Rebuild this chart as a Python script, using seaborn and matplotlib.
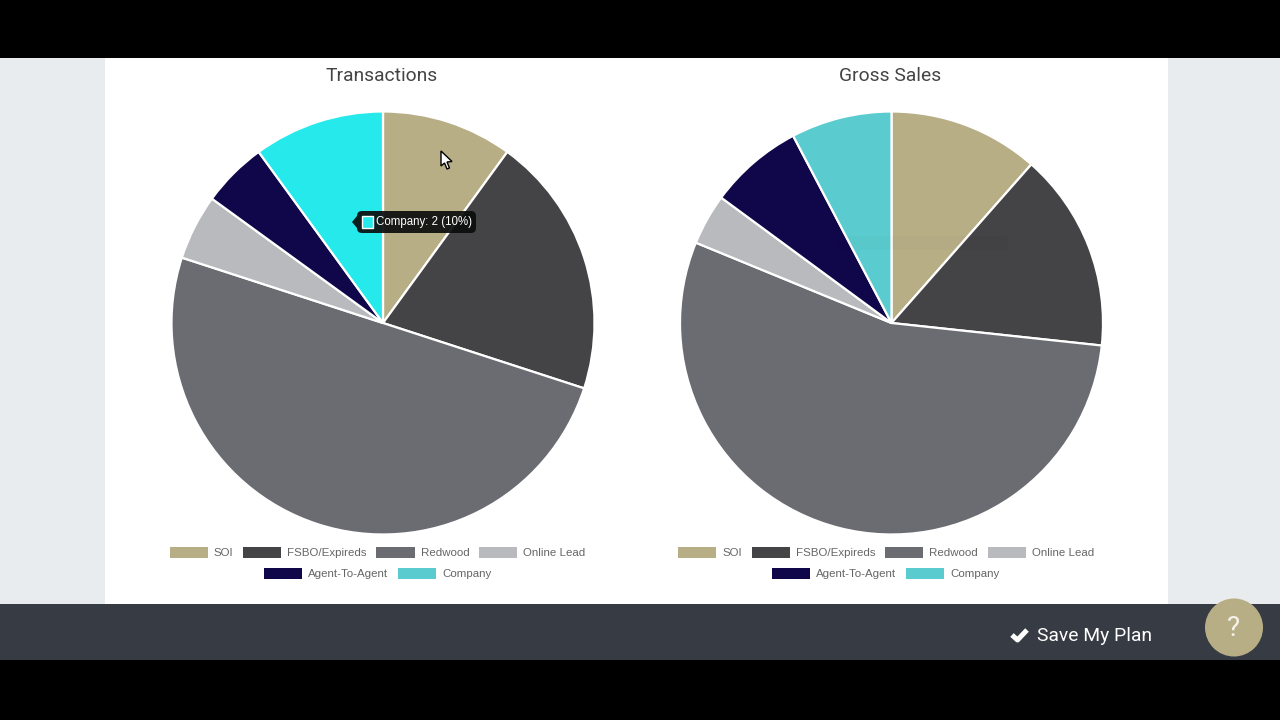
import matplotlib
matplotlib.use("Agg")
import matplotlib.pyplot as plt
from matplotlib.patches import Rectangle, FancyBboxPatch, Polygon, Circle, Patch
import seaborn as sns

sns.set_theme(style="white")
plt.rcParams["font.family"] = ["Liberation Sans", "DejaVu Sans"]

# Lead sources and their share in each plan chart
sources = ["SOI", "FSBO/Expireds", "Redwood", "Online Lead", "Agent-To-Agent", "Company"]
transactions = [2, 4, 10, 1, 1, 2]
gross_sales = [11.5, 15.2, 54.5, 3.9, 7.2, 7.7]

base_colors = ["#b8ae86", "#444446", "#6b6c72", "#b9babe", "#10064a", "#5accd0"]
hover_colors = base_colors[:5] + ["#25e9ea"]
tooltip_text = "Company: 2 (10%)"
button_text = "Save My Plan"

W, H = 1280, 720
fig = plt.figure(figsize=(12.8, 7.2), dpi=100, facecolor="black")

# Page chrome, laid out in pixels with the origin at the top left
page = fig.add_axes([0, 0, 1, 1], zorder=0)
page.set_xlim(0, W)
page.set_ylim(H, 0)
page.axis("off")
page.add_patch(Rectangle((0, 58), W, 546, color="#e8ecef", lw=0))
page.add_patch(Rectangle((105, 58), 1063, 546, color="white", lw=0))
page.add_patch(Rectangle((0, 604), W, 56, color="#373b44", lw=0))


def pie_panel(center_x, values, colors, title):
    cy, r = 323, 211.5
    ax = fig.add_axes([(center_x - r) / W, 1 - (cy + r) / H, 2 * r / W, 2 * r / H], zorder=1)
    ax.pie(values, colors=colors, startangle=90, counterclock=False, radius=1,
           wedgeprops=dict(edgecolor="white", linewidth=1.6))
    ax.set_xlim(-1, 1)
    ax.set_ylim(-1, 1)
    ax.set_aspect("equal")
    page.text(center_x - 1, 76, title, ha="center", va="center", color="#444444",
              fontsize=13.85, family="Roboto")
    handles = [Patch(facecolor=c, edgecolor="none", label=s) for c, s in zip(base_colors, sources)]
    for row, y in ((handles[:4], 552.5), (handles[4:], 573.5)):
        leg = page.legend(handles=row, ncol=len(row), loc="center",
                          bbox_to_anchor=(center_x - 5.5, y), bbox_transform=page.transData,
                          frameon=False, fontsize=8.25, labelcolor="#666666",
                          handlelength=3.33, handleheight=1.05, handletextpad=0.52,
                          columnspacing=0.85, borderpad=0, borderaxespad=0)
        page.add_artist(leg)
        # keep each row as a plain artist so it is drawn only once
        page.legend_ = None


pie_panel(891.5, gross_sales, base_colors, "Gross Sales")
pie_panel(383, transactions, hover_colors, "Transactions")

# Overlay for the tooltip, pointer and footer controls
top = fig.add_axes([0, 0, 1, 1], zorder=3)
top.set_xlim(0, W)
top.set_ylim(H, 0)
top.axis("off")
top.patch.set_alpha(0)

# Fading tooltip left over on the right-hand chart
top.add_patch(FancyBboxPatch((836, 236), 172, 14, boxstyle="round,pad=0,rounding_size=3",
                             fc="black", ec="none", alpha=0.02))

top.add_patch(FancyBboxPatch((357, 211), 119, 22, boxstyle="round,pad=0,rounding_size=5",
                             fc="#0b0d0d", ec="none", alpha=0.92))
top.add_patch(Polygon([(352, 222), (357, 216), (357, 228)], fc="#0b0d0d", ec="none", alpha=0.92))
top.add_patch(Rectangle((362, 216), 11, 12, fc=hover_colors[5], ec="white", lw=1))
top.text(375.5, 221.5, tooltip_text, color="white", fontsize=8.3, ha="left", va="center")

top.add_patch(Polygon([(441, 151), (441, 166), (444.5, 163), (447, 169), (449.5, 168),
                       (447, 162), (452, 161.5)], fc="white", ec="black", lw=1))

top.plot([1012, 1017.5, 1027], [635, 640, 630], color="white", lw=3.6, solid_capstyle="butt")
top.text(1037, 636, button_text, color="white", fontsize=13.85, family="Roboto",
         ha="left", va="center")
top.add_patch(Circle((1234, 627.5), 29, fc="#b8ae86", ec="none"))
top.text(1234, 628, "?", color="#f4f2ea", fontsize=20, family="Roboto", ha="center", va="center")

fig.savefig("out.png", dpi=100, facecolor=fig.get_facecolor())
